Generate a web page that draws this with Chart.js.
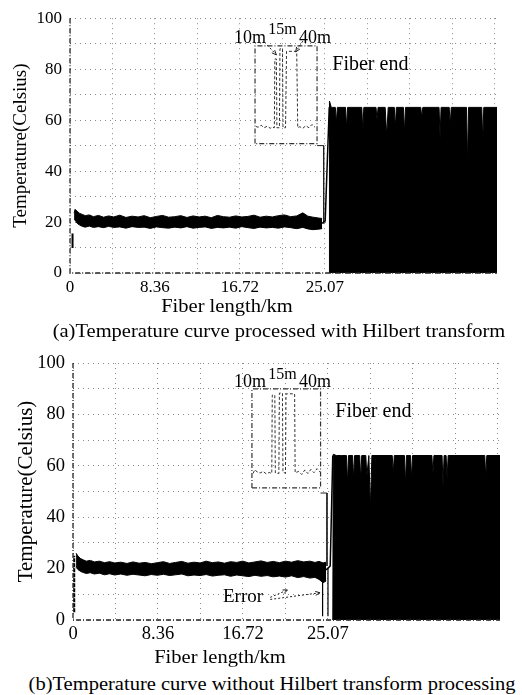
<!DOCTYPE html>
<html>
<head>
<meta charset="utf-8">
<script src="https://cdn.jsdelivr.net/npm/chart.js@4.4.1/dist/chart.umd.min.js"></script>
<style>
  body { margin: 0; background: #fff; width: 522px; height: 695px; position: relative; overflow: hidden;
         font-family: "Liberation Serif", "DejaVu Serif", serif; color: #000; }
  .box { position: absolute; left: 0; width: 522px; height: 312px; }
  .txt { position: absolute; white-space: nowrap; line-height: 1; transform: translate(-50%, -50%) scaleX(1.08); }
</style>
</head>
<body>
<div class="box" style="top:0"><canvas id="chartA" width="522" height="312"></canvas></div>
<div class="txt" style="left:227px;top:305px;font-size:19px">Fiber length/km</div>
<div class="txt" style="left:279px;top:330px;font-size:19px">(a)Temperature curve processed with Hilbert transform</div>

<div class="box" style="top:340px"><canvas id="chartB" width="522" height="312"></canvas></div>
<div class="txt" style="left:220px;top:656px;font-size:19px">Fiber length/km</div>
<div class="txt" style="left:272px;top:683px;font-size:19px">(b)Temperature curve without Hilbert transform processing</div>

<script>
// axis ticks
var xGridKm = [0, 4.18, 8.36, 12.54, 16.72, 20.9, 25.07, 29.25, 33.43, 37.61, 41.79];
var xLabelKm = [0, 8.36, 16.72, 25.07];
var xLabelText = ["0", "8.36", "16.72", "25.07"];
var yLabelVals = [0, 20, 40, 60, 80, 100];

// ---- (a) with Hilbert transform ----
var bandKmA = [0.4, 0.5, 0.7, 0.95, 1.2, 1.5, 1.9, 2.3, 2.8, 3.3, 3.8, 4.3, 4.9, 5.5, 6.1, 6.7,
  7.3, 7.9, 8.5, 9.1, 9.7, 10.3, 10.9, 11.5, 12.1, 12.7, 13.3, 13.9, 14.5, 15.1, 15.7, 16.3,
  16.9, 17.5, 18.1, 18.7, 19.3, 19.9, 20.5, 21.1, 21.7, 22.3, 22.9, 23.4, 23.9, 24.4, 24.8];
var upperA = [23.5, 25.0, 24.2, 23.4, 23.0, 22.5, 22.8, 22.1, 22.6, 21.9, 22.4, 22.0, 22.7, 21.8, 22.3, 22.0,
  22.5, 21.7, 22.2, 22.6, 21.9, 22.1, 22.5, 21.8, 22.4, 22.0, 22.3, 21.7, 22.6, 22.1, 21.9, 22.4,
  22.0, 22.2, 22.7, 21.9, 22.3, 22.0, 22.5, 22.8, 22.1, 22.4, 23.6, 22.3, 21.9, 21.6, 21.4];
var lowerA = [21.0, 20.8, 19.5, 18.8, 18.3, 18.0, 18.4, 17.9, 18.2, 17.8, 18.3, 17.9, 18.1, 17.6, 18.2, 17.9,
  18.0, 17.5, 18.1, 17.8, 17.6, 18.0, 17.7, 18.2, 17.6, 17.9, 18.1, 17.5, 17.9, 17.7, 18.0, 17.6,
  18.2, 17.8, 17.5, 18.0, 17.7, 17.9, 17.6, 18.1, 17.8, 17.4, 17.9, 17.3, 17.0, 17.2, 17.4];
var startKmA = [0.25, 0.25];
var startA = [9.8, 15.5];
var riseKmA = [24.8, 25.1, 25.5];
var riseA = [19.5, 20.5, 65];
var blockKmA = [25.48, 25.52, 25.7, 25.85, 26.1, 26.2, 26.3, 27.1, 27.2, 27.3, 28.7, 28.8, 28.9,
  30.1, 30.2, 30.3, 31.0, 31.15, 31.3, 31.9, 32.0, 32.1, 32.8, 32.9, 33.0, 34.5, 34.6, 34.7,
  36.3, 36.4, 36.5, 37.3, 37.4, 37.5, 39.0, 39.1, 39.2, 40.5, 40.6, 40.7, 42.0];
var blockTopA = [0, 67.5, 65, 65, 65, 59, 65, 65, 57, 65, 65, 56, 65,
  65, 60, 65, 65, 54, 65, 65, 57, 65, 65, 55, 65, 65, 61, 65,
  65, 53, 65, 65, 58, 65, 65, 43, 65, 65, 52, 65, 65];
var insetBoxKmA = [18.2, 18.2, 24.3, 24.3, 18.2];
var insetBoxA = [50.8, 89.1, 89.1, 50.8, 50.8];
var insetKmA = [18.3, 18.5, 18.8, 19.1, 19.4, 19.7, 19.9, 20.1, 20.15, 20.3, 20.35, 20.6, 20.65,
  20.9, 20.95, 21.2, 21.3, 22.3, 22.4, 22.6, 22.9, 23.2, 23.5, 23.8, 24.1];
var insetA = [57.5, 57.2, 58.0, 57.0, 57.6, 56.8, 57.3, 57.0, 84, 84, 57, 57, 88,
  88, 57, 57, 87, 87, 57, 57.4, 56.8, 57.8, 57.0, 58.3, 57.2];
var linkKmA = [24.3, 24.95, 24.95];
var linkA = [50.0, 50.0, 19.5];

// ---- (b) without Hilbert transform ----
var bandKmB = [0.3, 0.5, 0.75, 1.0, 1.3, 1.7, 2.1, 2.6, 3.1, 3.6, 4.1, 4.7, 5.3, 5.9, 6.5, 7.1,
  7.7, 8.3, 8.9, 9.5, 10.1, 10.7, 11.3, 11.9, 12.5, 13.1, 13.7, 14.3, 14.9, 15.5, 16.1, 16.7,
  17.3, 17.9, 18.5, 19.1, 19.7, 20.3, 20.9, 21.5, 22.1, 22.7, 23.3, 23.8, 24.2, 24.6, 24.9];
var upperB = [26.0, 24.8, 23.9, 23.4, 22.9, 23.2, 22.6, 22.9, 22.3, 22.7, 22.2, 22.5, 22.0, 22.6, 22.1, 22.4,
  21.9, 22.3, 22.7, 22.0, 22.4, 22.8, 22.1, 22.5, 22.2, 22.9, 22.3, 22.6, 22.1, 22.7, 22.4, 22.9,
  22.2, 22.6, 23.0, 22.4, 22.8, 22.3, 22.9, 22.5, 23.1, 22.6, 22.9, 22.4, 22.8, 22.2, 22.5];
var lowerB = [20.5, 19.6, 18.9, 18.5, 18.1, 18.4, 17.9, 18.2, 17.6, 18.0, 17.5, 17.9, 17.4, 17.8, 17.5, 17.2,
  17.7, 17.4, 17.8, 17.3, 17.6, 17.9, 17.2, 17.5, 17.3, 17.7, 17.1, 17.4, 17.6, 17.0, 17.5, 17.2,
  16.9, 17.4, 17.0, 17.3, 16.8, 17.1, 16.7, 17.2, 16.5, 16.9, 16.3, 16.6, 15.8, 14.5, 15.2];
var startKmB = [0.12, 0.12];
var startB = [3, 25];
var dropsKmB = [24.55, 24.55, 24.7, 25.08, 25.08];
var dropsB = [15, 1.5, null, 1.5, 20];
var riseKmB = [24.9, 25.3, 25.55];
var riseB = [19.5, 21, 64];
var blockKmB = [25.55, 25.6, 25.9, 26.4, 26.9, 27.0, 27.1, 27.5, 27.6, 27.7, 28.2, 28.3, 28.4,
  28.8, 28.9, 29.1, 29.25, 29.4, 31.4, 31.5, 31.6, 32.6, 32.7, 32.8, 33.2, 33.3, 33.4,
  35.3, 35.4, 35.5, 36.3, 36.4, 36.5, 36.7, 36.8, 36.9, 40.5, 40.6, 40.7, 42.0];
var blockTopB = [0, 64.5, 64, 64, 64, 53, 64, 64, 55, 64, 64, 54.5, 64,
  64, 56, 64, 43.5, 64, 64, 57, 64, 64, 53, 64, 64, 55, 64,
  64, 57, 64, 64, 52, 64, 64, 55, 64, 64, 55.5, 64, 64];
var insetBoxKmB = [17.6, 17.6, 24.35, 24.35, 17.6];
var insetBoxB = [51.4, 89.9, 89.9, 51.4, 51.4];
var insetKmB = [17.7, 17.9, 18.1, 18.4, 18.7, 19.0, 19.3, 19.55, 19.6, 19.85, 19.9, 20.25, 20.3,
  20.6, 20.65, 20.9, 20.95, 21.8, 21.85, 22.2, 22.5, 22.8, 23.1, 23.4, 23.7, 24.0, 24.3];
var insetB = [57.0, 58.5, 57.6, 57.2, 57.8, 56.9, 57.4, 57.0, 87.5, 87.5, 57.2, 57.0, 88.3,
  88.3, 57.5, 57.1, 88.0, 88.0, 57.3, 57.8, 56.6, 58.4, 57.0, 58.6, 57.3, 58.9, 57.6];
var linkKmB = [24.35, 24.98, 24.98];
var linkB = [49.4, 49.4, 21];

function pts(xs, ys) {
  return xs.map(function (v, i) { return { x: v, y: ys[i] }; });
}

function line(data, extra) {
  var d = { data: data, borderColor: "#000", borderWidth: 1, pointRadius: 0, tension: 0, fill: false, spanGaps: false };
  for (var k in extra) d[k] = extra[k];
  return d;
}

var notesPlugin = {
  id: "notes",
  afterDatasetsDraw: function (chart, args, opts) {
    var ctx = chart.ctx, a = chart.chartArea, x = chart.scales.x, y = chart.scales.y;
    ctx.save();
    ctx.strokeStyle = "#222";
    ctx.lineWidth = 1.3;
    ctx.setLineDash([5, 2, 1, 2]);
    ctx.beginPath();
    ctx.moveTo(a.left, a.top);
    ctx.lineTo(a.left, a.bottom);
    ctx.lineTo(a.right, a.bottom);
    ctx.stroke();

    ctx.lineWidth = 1;
    ctx.setLineDash([2, 2]);
    (opts.arrows || []).forEach(function (ar) {
      var x1 = x.getPixelForValue(ar[0]), y1 = y.getPixelForValue(ar[1]);
      var x2 = x.getPixelForValue(ar[2]), y2 = y.getPixelForValue(ar[3]);
      ctx.beginPath(); ctx.moveTo(x1, y1); ctx.lineTo(x2, y2); ctx.stroke();
      var ang = Math.atan2(y2 - y1, x2 - x1);
      ctx.setLineDash([]);
      ctx.beginPath();
      ctx.moveTo(x2 - 5 * Math.cos(ang - 0.4), y2 - 5 * Math.sin(ang - 0.4));
      ctx.lineTo(x2, y2);
      ctx.lineTo(x2 - 5 * Math.cos(ang + 0.4), y2 - 5 * Math.sin(ang + 0.4));
      ctx.stroke();
      ctx.setLineDash([2, 2]);
    });
    ctx.setLineDash([]);

    ctx.fillStyle = "#000";
    ctx.textBaseline = "middle";
    (opts.labels || []).forEach(function (l) {
      ctx.font = l.size + 'px "Liberation Serif"';
      ctx.textAlign = l.align || "center";
      ctx.fillText(l.text, x.getPixelForValue(l.x), y.getPixelForValue(l.y));
    });
    ctx.restore();
  }
};

function makeChart(id, datasets, cfg) {
  var font = { family: "Liberation Serif", size: cfg.tickSize };
  var gridCol = "rgba(0,0,0,0.45)";
  return new Chart(document.getElementById(id).getContext("2d"), {
    type: "line",
    data: { datasets: datasets },
    plugins: [notesPlugin],
    options: {
      responsive: false,
      animation: false,
      events: [],
      layout: { padding: { top: cfg.top, right: cfg.right, bottom: 0, left: 0 } },
      plugins: {
        legend: { display: false },
        tooltip: { enabled: false },
        notes: { labels: cfg.labels, arrows: cfg.arrows }
      },
      scales: {
        x: {
          type: "linear", min: 0, max: 42,
          afterBuildTicks: function (s) { s.ticks = xGridKm.map(function (v) { return { value: v }; }); },
          afterFit: function (s) { s.height = cfg.xHeight; },
          ticks: {
            autoSkip: false, maxRotation: 0, color: "#000", font: font, padding: cfg.xPad,
            callback: function (v) { var i = xLabelKm.indexOf(v); return i < 0 ? "" : xLabelText[i]; }
          },
          grid: { color: gridCol, drawTicks: false, lineWidth: 1 },
          border: { display: false, dash: [1, 4] }
        },
        y: {
          min: 0, max: 100,
          afterFit: function (s) { s.width = cfg.yWidth; },
          ticks: {
            stepSize: 10, color: "#000", font: font, padding: 8,
            callback: function (v) { return yLabelVals.indexOf(v) < 0 ? "" : String(v); }
          },
          grid: { color: gridCol, drawTicks: false, lineWidth: 1 },
          border: { display: false, dash: [1, 4] },
          title: {
            display: true, text: "Temperature(Celsius)", color: "#000",
            font: { family: "Liberation Serif", size: cfg.titleSize },
            padding: { top: cfg.titlePad, bottom: 0 }
          }
        }
      }
    }
  });
}

makeChart("chartA", [
  line(pts(bandKmA, upperA), {}),
  line(pts(bandKmA, lowerA), { fill: "-1", backgroundColor: "#000" }),
  line(pts(startKmA, startA), { borderWidth: 2 }),
  line(pts(riseKmA, riseA), { borderWidth: 1.5 }),
  line(pts(blockKmA, blockTopA), { fill: "origin", backgroundColor: "#000" }),
  line(pts(insetBoxKmA, insetBoxA), { borderColor: "#333", borderDash: [5, 2, 1, 2], borderWidth: 1.2 }),
  line(pts(insetKmA, insetA), { borderColor: "#333", borderDash: [3, 2] }),
  line(pts(linkKmA, linkA), { borderColor: "#222" })
], {
  top: 15, right: 25, yWidth: 70, xHeight: 39, xPad: 4, tickSize: 17, titleSize: 19, titlePad: 10,
  labels: [
    { text: "10m", x: 17.7, y: 92.2, size: 18 },
    { text: "15m", x: 20.9, y: 95.5, size: 16 },
    { text: "40m", x: 24.1, y: 92.0, size: 18 },
    { text: "Fiber end", x: 25.8, y: 81.8, size: 20, align: "left" }
  ],
  arrows: [[19.4, 89.5, 20.3, 85.6], [22.9, 91.0, 22.2, 86.8]]
});

makeChart("chartB", [
  line(pts(bandKmB, upperB), {}),
  line(pts(bandKmB, lowerB), { fill: "-1", backgroundColor: "#000" }),
  line(pts(startKmB, startB), { borderWidth: 2, borderDash: [4, 1] }),
  line(pts(dropsKmB, dropsB), { borderWidth: 1.2 }),
  line(pts(riseKmB, riseB), { borderWidth: 1.5 }),
  line(pts(blockKmB, blockTopB), { fill: "origin", backgroundColor: "#000" }),
  line(pts(insetBoxKmB, insetBoxB), { borderColor: "#333", borderDash: [5, 2, 1, 2], borderWidth: 1.2 }),
  line(pts(insetKmB, insetB), { borderColor: "#333", borderDash: [3, 2] }),
  line(pts(linkKmB, linkB), { borderColor: "#222" })
], {
  top: 23, right: 22, yWidth: 73, xHeight: 32, xPad: 3, tickSize: 18.5, titleSize: 21, titlePad: 14,
  labels: [
    { text: "10m", x: 17.4, y: 92.6, size: 18 },
    { text: "15m", x: 20.6, y: 95.3, size: 16 },
    { text: "40m", x: 23.8, y: 92.6, size: 18 },
    { text: "Fiber end", x: 25.8, y: 81.0, size: 20, align: "left" },
    { text: "Error", x: 14.75, y: 9.0, size: 19, align: "left" }
  ],
  arrows: [[19.4, 8.8, 21.1, 11.7], [19.4, 8.0, 24.3, 10.6]]
});
</script>
</body>
</html>
